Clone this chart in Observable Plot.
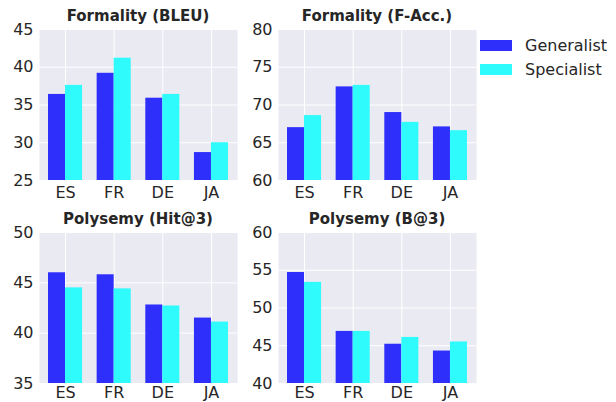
<!DOCTYPE html>
<html>
<head>
<meta charset="utf-8">
<script src="https://cdn.jsdelivr.net/npm/d3@7"></script>
<script src="https://cdn.jsdelivr.net/npm/@observablehq/plot@0.6"></script>
<style>
  html, body { margin: 0; padding: 0; background: #fff; overflow: hidden; }
  #root { position: relative; width: 616px; height: 402px; font-family: "DejaVu Sans", sans-serif; color: #262626; overflow: hidden; }
  .panel { position: absolute; }
  .title { position: absolute; font-weight: bold; font-size: 15px; text-align: center; white-space: nowrap; }
  .leg { position: absolute; font-size: 16px; display: flex; align-items: center; }
  .sw { width: 32px; height: 11px; margin-right: 13px; }
</style>
</head>
<body>
<div id="root"></div>
<script>
const languages = ["ES", "FR", "DE", "JA"];
const seriesNames = ["Generalist", "Specialist"];
const seriesColors = ["#2f2ffc", "#2ffbfc"];

const titles = ["Formality (BLEU)", "Formality (F-Acc.)", "Polysemy (Hit@3)", "Polysemy (B@3)"];
const yDomains = [[25, 45], [60, 80], [35, 50], [40, 60]];

const formalityBleuGeneralist = [36.4, 39.2, 35.9, 28.7];
const formalityBleuSpecialist = [37.6, 41.2, 36.4, 30.0];
const formalityAccGeneralist = [67.0, 72.4, 69.0, 67.1];
const formalityAccSpecialist = [68.6, 72.6, 67.7, 66.6];
const polysemyHitGeneralist = [46.0, 45.8, 42.8, 41.5];
const polysemyHitSpecialist = [44.5, 44.4, 42.7, 41.1];
const polysemyBGeneralist = [54.7, 46.9, 45.2, 44.3];
const polysemyBSpecialist = [53.4, 46.9, 46.1, 45.5];

const panelData = [
  [formalityBleuGeneralist, formalityBleuSpecialist],
  [formalityAccGeneralist, formalityAccSpecialist],
  [polysemyHitGeneralist, polysemyHitSpecialist],
  [polysemyBGeneralist, polysemyBSpecialist]
];

const root = document.getElementById("root");
const innerW = 198, innerH = 151;
const mL = 39, mR = 3, mT = 10;
const padIn = 0.3, padOut = 0.185;
const step = innerW / (languages.length - padIn + 2 * padOut);
const half = step * (1 - padIn) / 2;
const lefts = [0, 239, 0, 239];
const tops = [19, 19, 222, 222];
const bottoms = [26, 26, 19, 19];
const xPads = [6, 6, 3, 3];

panelData.forEach((series, p) => {
  const rows = [];
  series.forEach((vals, s) => vals.forEach((v, i) => rows.push({lang: languages[i], model: seriesNames[s], value: v})));
  const yTicks = d3.range(yDomains[p][0], yDomains[p][1] + 0.01, 5);
  const chart = Plot.plot({
    width: mL + innerW + mR,
    height: mT + innerH + bottoms[p],
    marginLeft: mL, marginRight: mR, marginTop: mT, marginBottom: bottoms[p],
    style: {fontFamily: "DejaVu Sans", fontSize: "16px", color: "#262626", background: "transparent", overflow: "visible"},
    x: {type: "band", domain: languages, paddingInner: padIn, paddingOuter: padOut, round: false},
    y: {domain: yDomains[p], round: false},
    marks: [
      Plot.frame({fill: "#eaeaf2", stroke: null}),
      Plot.gridY({ticks: yTicks, stroke: "#fff", strokeOpacity: 1, strokeWidth: 1}),
      Plot.gridX({stroke: "#fff", strokeOpacity: 1, strokeWidth: 1}),
      Plot.barY(rows.filter(d => d.model === seriesNames[0]), {x: "lang", y1: yDomains[p][0], y2: "value", fill: seriesColors[0], insetRight: half}),
      Plot.barY(rows.filter(d => d.model === seriesNames[1]), {x: "lang", y1: yDomains[p][0], y2: "value", fill: seriesColors[1], insetLeft: half}),
      Plot.axisY({ticks: yTicks, tickSize: 0, tickPadding: 6, label: null, fill: "#262626"}),
      Plot.axisX({tickSize: 0, tickPadding: xPads[p], label: null, fill: "#262626"})
    ]
  });
  const wrap = document.createElement("div");
  wrap.className = "panel";
  wrap.style.left = lefts[p] + "px";
  wrap.style.top = tops[p] + "px";
  wrap.appendChild(chart);
  root.appendChild(wrap);

  const t = document.createElement("div");
  t.className = "title";
  t.textContent = titles[p];
  t.style.left = (lefts[p] + mL) + "px";
  t.style.width = innerW + "px";
  t.style.top = (tops[p] + mT - 22) + "px";
  root.appendChild(t);
});

seriesNames.forEach((name, s) => {
  const l = document.createElement("div");
  l.className = "leg";
  l.style.left = "480px";
  l.style.top = (36 + s * 24) + "px";
  const sw = document.createElement("div");
  sw.className = "sw";
  sw.style.background = seriesColors[s];
  l.appendChild(sw);
  const tx = document.createElement("span");
  tx.textContent = name;
  l.appendChild(tx);
  root.appendChild(l);
});
</script>
</body>
</html>
